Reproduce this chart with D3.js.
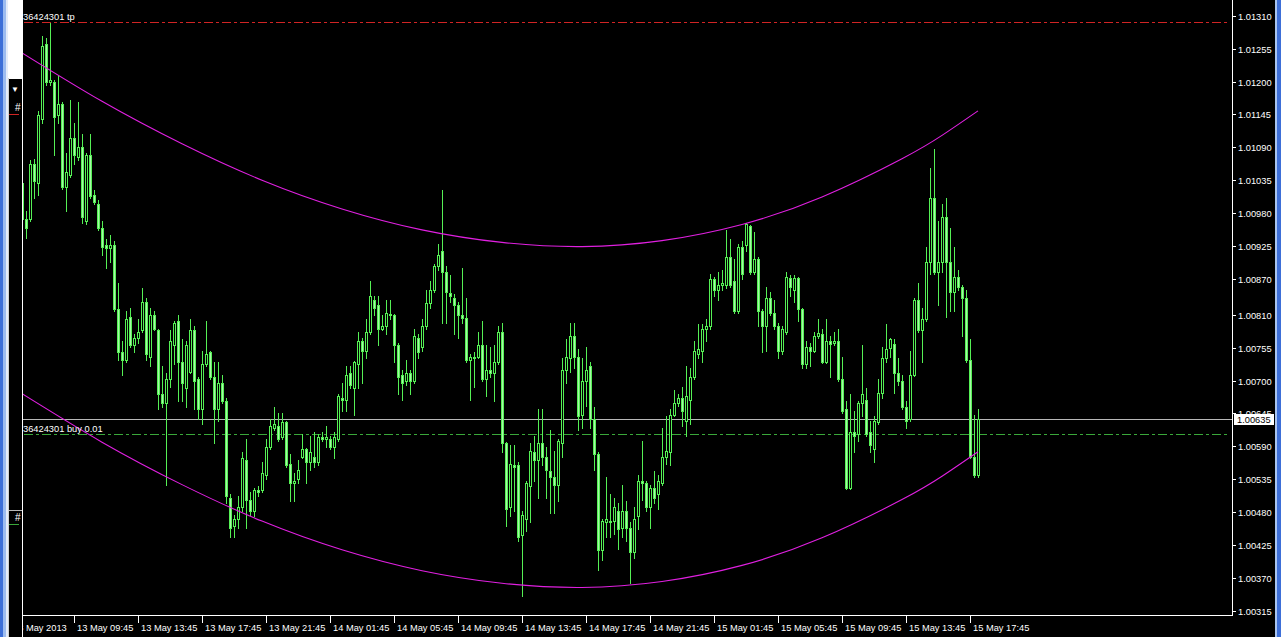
<!DOCTYPE html>
<html><head><meta charset="utf-8">
<script src="https://cdn.jsdelivr.net/npm/d3@7"></script>
<style>html,body{margin:0;padding:0;background:#000;overflow:hidden}svg{display:block}</style>
</head><body><svg id="c" width="1281" height="637"></svg>
<script>
// ---- data ----
const firstBarTime = "2013-05-13 06:30"; // M15 bars
const opens = [
1.01030,1.00970,1.00970,1.01062,1.01030,1.01137,1.01263,1.01200,1.01200,1.01144,
1.01162,1.01024,1.01043,1.01106,1.01074,1.01090,1.00967,1.01077,1.01011,1.00996,
1.00955,1.00926,1.00922,1.00926,1.00819,1.00747,1.00734,1.00807,1.00759,1.00772,
1.00784,1.00832,1.00740,1.00810,1.00784,1.00677,1.00662,1.00703,1.00759,1.00800,
1.00731,1.00687,1.00715,1.00784,1.00703,1.00652,1.00728,1.00747,1.00706,1.00652,
1.00696,1.00665,1.00504,1.00457,1.00469,1.00488,1.00567,1.00501,1.00482,1.00517,
1.00517,1.00542,1.00589,1.00621,1.00624,1.00605,1.00630,1.00561,1.00529,1.00536,
1.00573,1.00586,1.00564,1.00573,1.00564,1.00605,1.00602,1.00602,1.00589,1.00602,
1.00671,1.00668,1.00712,1.00687,1.00728,1.00766,1.00750,1.00781,1.00835,1.00826,
1.00787,1.00791,1.00811,1.00810,1.00759,1.00709,1.00699,1.00712,1.00699,1.00772,
1.00756,1.00791,1.00829,1.00851,1.00892,1.00917,1.00882,1.00846,1.00838,1.00826,
1.00810,1.00805,1.00735,1.00737,1.00740,1.00759,1.00703,1.00718,1.00712,1.00731,
1.00781,1.00595,1.00488,1.00559,1.00558,1.00441,1.00469,1.00523,1.00580,1.00567,
1.00595,1.00573,1.00548,1.00539,1.00526,1.00595,1.00718,1.00737,1.00775,1.00740,
1.00643,1.00699,1.00725,1.00636,1.00577,1.00416,1.00463,1.00466,1.00466,1.00482,
1.00454,1.00482,1.00454,1.00413,1.00473,1.00532,1.00529,1.00488,1.00520,1.00510,
1.00529,1.00573,1.00580,1.00643,1.00662,1.00671,1.00633,1.00668,1.00706,1.00744,
1.00750,1.00786,1.00791,1.00870,1.00851,1.00860,1.00860,1.00907,1.00866,1.00816,
1.00923,1.00926,1.00958,1.00882,1.00904,1.00816,1.00791,1.00838,1.00813,1.00791,
1.00750,1.00781,1.00871,1.00851,1.00871,1.00819,1.00728,1.00756,1.00750,1.00775,
1.00778,1.00731,1.00766,1.00762,1.00766,1.00703,1.00652,1.00520,1.00614,1.00611,
1.00662,1.00668,1.00614,1.00586,1.00630,1.00680,1.00737,1.00754,1.00761,1.00712,
1.00699,1.00655,1.00636,1.00709,1.00835,1.00784,1.00803,1.00898,1.01005,1.00882,
1.00898,1.00973,1.00898,1.00848,1.00873,1.00857,1.00838,1.00734,1.00573,1.00542];
const highs = [
1.01033,1.00983,1.01068,1.01071,1.01150,1.01276,1.01273,1.01298,1.01203,1.01210,
1.01166,1.01081,1.01169,1.01131,1.01166,1.01112,1.01080,1.01112,1.01018,1.01002,
1.00967,1.00936,1.00943,1.00933,1.00863,1.00766,1.00816,1.00822,1.00778,1.00803,
1.00854,1.00838,1.00822,1.00816,1.00787,1.00725,1.00712,1.00784,1.00800,1.00810,
1.00769,1.00766,1.00803,1.00791,1.00706,1.00750,1.00800,1.00750,1.00731,1.00731,
1.00709,1.00671,1.00510,1.00476,1.00507,1.00580,1.00602,1.00514,1.00520,1.00523,
1.00564,1.00602,1.00636,1.00655,1.00646,1.00646,1.00632,1.00577,1.00545,1.00567,
1.00611,1.00588,1.00608,1.00614,1.00611,1.00614,1.00624,1.00608,1.00614,1.00677,
1.00696,1.00725,1.00725,1.00733,1.00781,1.00772,1.00803,1.00866,1.00841,1.00841,
1.00810,1.00835,1.00835,1.00812,1.00762,1.00718,1.00734,1.00718,1.00787,1.00778,
1.00803,1.00851,1.00866,1.00895,1.00929,1.01018,1.00892,1.00876,1.00844,1.00832,
1.00888,1.00838,1.00744,1.00747,1.00781,1.00800,1.00759,1.00756,1.00759,1.00791,
1.00797,1.00597,1.00592,1.00592,1.00564,1.00482,1.00532,1.00595,1.00608,1.00652,
1.00652,1.00589,1.00618,1.00583,1.00602,1.00737,1.00769,1.00797,1.00797,1.00753,
1.00737,1.00756,1.00731,1.00655,1.00580,1.00469,1.00539,1.00510,1.00504,1.00495,
1.00526,1.00498,1.00463,1.00488,1.00542,1.00599,1.00532,1.00526,1.00548,1.00542,
1.00621,1.00640,1.00652,1.00684,1.00677,1.00690,1.00725,1.00721,1.00766,1.00794,
1.00794,1.00803,1.00879,1.00873,1.00882,1.00885,1.00951,1.00936,1.00904,1.00929,
1.00933,1.00964,1.00960,1.00948,1.00907,1.00819,1.00857,1.00848,1.00835,1.00797,
1.00791,1.00882,1.00876,1.00876,1.00873,1.00822,1.00766,1.00762,1.00781,1.00803,
1.00787,1.00803,1.00775,1.00781,1.00787,1.00740,1.00665,1.00677,1.00649,1.00665,
1.00759,1.00687,1.00633,1.00640,1.00703,1.00756,1.00794,1.00772,1.00769,1.00737,
1.00709,1.00665,1.00750,1.00838,1.00863,1.00822,1.00923,1.01055,1.01087,1.00967,
1.00996,1.01005,1.00955,1.00923,1.00885,1.00860,1.00851,1.00769,1.00643,1.00652];
const lows = [
1.00942,1.00939,1.00967,1.01005,1.01011,1.01131,1.01194,1.01194,1.01077,1.01131,
1.01020,1.00983,1.01040,1.01062,1.01068,1.00964,1.00961,1.01005,1.00996,1.00951,
1.00910,1.00888,1.00898,1.00816,1.00734,1.00709,1.00731,1.00756,1.00747,1.00762,
1.00781,1.00734,1.00725,1.00784,1.00652,1.00655,1.00526,1.00690,1.00728,1.00665,
1.00665,1.00655,1.00712,1.00652,1.00636,1.00627,1.00725,1.00703,1.00595,1.00633,
1.00662,1.00495,1.00438,1.00438,1.00454,1.00482,1.00454,1.00476,1.00473,1.00507,
1.00514,1.00536,1.00586,1.00618,1.00599,1.00602,1.00555,1.00498,1.00498,1.00529,
1.00570,1.00529,1.00551,1.00555,1.00558,1.00599,1.00589,1.00586,1.00570,1.00599,
1.00649,1.00649,1.00687,1.00643,1.00687,1.00696,1.00737,1.00778,1.00810,1.00759,
1.00784,1.00778,1.00803,1.00731,1.00677,1.00668,1.00693,1.00677,1.00696,1.00737,
1.00750,1.00787,1.00822,1.00848,1.00885,1.00797,1.00797,1.00832,1.00778,1.00772,
1.00797,1.00731,1.00668,1.00690,1.00737,1.00699,1.00674,1.00706,1.00665,1.00728,
1.00580,1.00457,1.00473,1.00482,1.00432,1.00340,1.00448,1.00463,1.00532,1.00504,
1.00558,1.00504,1.00479,1.00479,1.00498,1.00573,1.00696,1.00715,1.00721,1.00618,
1.00621,1.00658,1.00621,1.00551,1.00384,1.00400,1.00438,1.00438,1.00444,1.00419,
1.00438,1.00432,1.00362,1.00403,1.00451,1.00501,1.00482,1.00454,1.00495,1.00485,
1.00526,1.00561,1.00558,1.00640,1.00658,1.00624,1.00608,1.00627,1.00703,1.00737,
1.00731,1.00766,1.00787,1.00841,1.00835,1.00851,1.00854,1.00857,1.00813,1.00813,
1.00870,1.00917,1.00879,1.00879,1.00791,1.00747,1.00750,1.00810,1.00787,1.00737,
1.00744,1.00778,1.00841,1.00832,1.00800,1.00721,1.00721,1.00725,1.00747,1.00772,
1.00729,1.00729,1.00706,1.00759,1.00699,1.00646,1.00518,1.00518,1.00580,1.00599,
1.00640,1.00608,1.00580,1.00564,1.00627,1.00671,1.00731,1.00740,1.00680,1.00693,
1.00652,1.00621,1.00633,1.00708,1.00782,1.00731,1.00800,1.00879,1.00879,1.00826,
1.00882,1.00807,1.00816,1.00816,1.00851,1.00775,1.00731,1.00570,1.00539,1.00539];
const closes = [
1.00970,1.00955,1.01062,1.01033,1.01144,1.01260,1.01200,1.01203,1.01140,1.01162,
1.01024,1.01049,1.01106,1.01077,1.01090,1.00973,1.01077,1.01008,1.00999,1.00955,
1.00923,1.00922,1.00926,1.00819,1.00747,1.00734,1.00803,1.00759,1.00772,1.00781,
1.00832,1.00744,1.00810,1.00787,1.00677,1.00662,1.00703,1.00766,1.00797,1.00731,
1.00696,1.00759,1.00784,1.00699,1.00652,1.00728,1.00744,1.00706,1.00652,1.00696,
1.00665,1.00507,1.00454,1.00469,1.00488,1.00570,1.00501,1.00482,1.00517,1.00514,
1.00545,1.00589,1.00624,1.00627,1.00602,1.00630,1.00558,1.00529,1.00532,1.00551,
1.00586,1.00564,1.00580,1.00564,1.00605,1.00602,1.00605,1.00589,1.00605,1.00674,
1.00668,1.00709,1.00693,1.00731,1.00766,1.00750,1.00781,1.00841,1.00822,1.00787,
1.00791,1.00813,1.00809,1.00759,1.00706,1.00696,1.00712,1.00699,1.00775,1.00747,
1.00791,1.00829,1.00851,1.00892,1.00910,1.00882,1.00848,1.00841,1.00826,1.00810,
1.00805,1.00734,1.00739,1.00740,1.00759,1.00703,1.00718,1.00712,1.00731,1.00781,
1.00595,1.00485,1.00561,1.00555,1.00438,1.00476,1.00529,1.00583,1.00567,1.00595,
1.00573,1.00551,1.00539,1.00526,1.00599,1.00718,1.00740,1.00775,1.00740,1.00640,
1.00699,1.00718,1.00636,1.00577,1.00416,1.00466,1.00469,1.00464,1.00488,1.00451,
1.00482,1.00454,1.00413,1.00469,1.00532,1.00529,1.00488,1.00520,1.00504,1.00532,
1.00573,1.00583,1.00643,1.00662,1.00671,1.00649,1.00674,1.00706,1.00750,1.00753,
1.00787,1.00791,1.00870,1.00851,1.00860,1.00863,1.00907,1.00860,1.00816,1.00923,
1.00879,1.00961,1.00882,1.00904,1.00816,1.00791,1.00838,1.00813,1.00791,1.00750,
1.00787,1.00873,1.00857,1.00871,1.00819,1.00728,1.00756,1.00750,1.00775,1.00779,
1.00731,1.00766,1.00761,1.00766,1.00703,1.00649,1.00520,1.00614,1.00608,1.00662,
1.00677,1.00611,1.00592,1.00633,1.00680,1.00737,1.00753,1.00769,1.00712,1.00699,
1.00655,1.00633,1.00709,1.00835,1.00784,1.00803,1.00898,1.01005,1.00882,1.00898,
1.00973,1.00898,1.00848,1.00873,1.00857,1.00838,1.00734,1.00573,1.00542,1.00635];

// regression channel (bar index -> price)
const channelBars  = [0, 20, 40, 60, 80, 100, 120, 140, 160, 180, 200, 220, 230, 239];
const channelUpper = [1.01248,1.01167,1.01096,1.01035,1.00987,1.00952,1.00931,1.00924,1.00934,1.00961,1.01007,1.01071,1.01110,1.01151];
const channelLower = [1.00678,1.00597,1.00526,1.00465,1.00417,1.00382,1.00361,1.00354,1.00364,1.00391,1.00437,1.00501,1.00540,1.00581];

const priceTickLabels = ["1.01310","1.01255","1.01200","1.01145","1.01090","1.01035","1.00980","1.00925","1.00870","1.00810",
  "1.00755","1.00700","1.00645","1.00590","1.00535","1.00480","1.00425","1.00370","1.00315"];
const timeTickTimes = ["2013-05-13 05:45","2013-05-13 09:45","2013-05-13 13:45","2013-05-13 17:45","2013-05-13 21:45",
  "2013-05-14 01:45","2013-05-14 05:45","2013-05-14 09:45","2013-05-14 13:45","2013-05-14 17:45","2013-05-14 21:45",
  "2013-05-15 01:45","2013-05-15 05:45","2013-05-15 09:45","2013-05-15 13:45","2013-05-15 17:45"];
const timeTickLabels = ["13 May 2013","13 May 09:45","13 May 13:45","13 May 17:45","13 May 21:45",
  "14 May 01:45","14 May 05:45","14 May 09:45","14 May 13:45","14 May 17:45","14 May 21:45",
  "15 May 01:45","15 May 05:45","15 May 09:45","15 May 13:45","15 May 17:45"];

const tpLevel = 1.01300, tpLabel = "36424301 tp";
const buyLevel = 1.00611, buyLabel = "36424301 buy 0.01";
const bidPrice = 1.00635;

// ---- drawing ----
const W = 1281, H = 637;
const plotL = 22, plotR = 1232, plotT = 0, plotB = 615;
const FONT = "'Liberation Sans', Arial, sans-serif";
const GREEN = "#55f055";

const svg = d3.select("#c");
svg.append("rect").attr("width", W).attr("height", H).attr("fill", "#000");

const parseT = d3.timeParse("%Y-%m-%d %H:%M");
const t0 = parseT(firstBarTime);
const barTimes = opens.map((_, i) => d3.timeMinute.offset(t0, 15 * i));
const x = d3.scaleTime().domain([barTimes[0], barTimes[barTimes.length - 1]]).range([22, 978]);
const y = d3.scaleLinear().domain([1.00308, 1.01333]).range([615, 2]);

svg.append("defs").append("clipPath").attr("id", "plot")
  .append("rect").attr("x", plotL).attr("y", plotT).attr("width", plotR - plotL).attr("height", plotB - plotT);

const plot = svg.append("g").attr("clip-path", "url(#plot)");

const bars = barTimes.map((t, i) => ({ t, o: opens[i], h: highs[i], l: lows[i], c: closes[i] }));

// level lines
plot.append("line").attr("x1", plotL).attr("x2", plotR)
  .attr("y1", Math.round(y(bidPrice)) + 0.5).attr("y2", Math.round(y(bidPrice)) + 0.5)
  .attr("stroke", "#b8b8b8").attr("stroke-width", 1);
plot.append("line").attr("x1", plotL + 2).attr("x2", plotR - 4)
  .attr("y1", Math.round(y(tpLevel)) + 0.5).attr("y2", Math.round(y(tpLevel)) + 0.5)
  .attr("stroke", "#d02424").attr("stroke-width", 1).attr("stroke-dasharray", "9,3,3,3");
plot.append("line").attr("x1", plotL + 2).attr("x2", plotR - 4)
  .attr("y1", Math.round(y(buyLevel)) + 0.5).attr("y2", Math.round(y(buyLevel)) + 0.5)
  .attr("stroke", "#3aa83a").attr("stroke-width", 1).attr("stroke-dasharray", "9,3,3,3");

// candles
const cg = plot.append("g").attr("shape-rendering", "crispEdges");
const cand = cg.selectAll("g").data(bars).join("g");
cand.append("line")
  .attr("x1", d => Math.round(x(d.t)) + 0.5).attr("x2", d => Math.round(x(d.t)) + 0.5)
  .attr("y1", d => Math.round(y(d.h))).attr("y2", d => Math.round(y(d.l)) + 1)
  .attr("stroke", GREEN).attr("stroke-width", 1);
cand.append("rect")
  .attr("x", d => Math.round(x(d.t)) - 0.5)
  .attr("y", d => Math.round(y(Math.max(d.o, d.c))) + 0.5)
  .attr("width", 2)
  .attr("height", d => Math.max(0, Math.round(y(Math.min(d.o, d.c))) - Math.round(y(Math.max(d.o, d.c)))))
  .attr("fill", d => d.c >= d.o ? "#000" : "#a8f8a8")
  .attr("stroke", GREEN).attr("stroke-width", 1);

// channel curves
const chanX = i => x(barTimes[i]);
const lineGen = d3.line().curve(d3.curveNatural);
plot.append("path").attr("d", lineGen(channelBars.map((b, i) => [chanX(b), y(channelUpper[i])])))
  .attr("fill", "none").attr("stroke", "#e020e0").attr("stroke-width", 1.1);
plot.append("path").attr("d", lineGen(channelBars.map((b, i) => [chanX(b), y(channelLower[i])])))
  .attr("fill", "none").attr("stroke", "#e020e0").attr("stroke-width", 1.1);

// level labels
svg.append("text").attr("x", plotL + 1).attr("y", Math.round(y(tpLevel)) - 2)
  .attr("fill", "#fff").attr("font-family", FONT).attr("font-size", 9.3).text(tpLabel);
svg.append("text").attr("x", plotL + 1).attr("y", Math.round(y(buyLevel)) - 2)
  .attr("fill", "#fff").attr("font-family", FONT).attr("font-size", 9.3).text(buyLabel);

// axes
const ax = svg.append("g").attr("shape-rendering", "crispEdges");
ax.append("line").attr("x1", plotL).attr("x2", plotR + 1).attr("y1", plotB + 0.5).attr("y2", plotB + 0.5).attr("stroke", "#fff");
ax.append("line").attr("x1", plotR + 0.5).attr("x2", plotR + 0.5).attr("y1", 0).attr("y2", plotB + 1).attr("stroke", "#fff");
ax.append("line").attr("x1", plotL + 0.5).attr("x2", plotL + 0.5).attr("y1", 0).attr("y2", H).attr("stroke", "#fff");

// price axis
const priceTicks = priceTickLabels.map(Number);
priceTicks.forEach((p, i) => {
  const py = Math.round(y(p));
  ax.append("line").attr("x1", plotR).attr("x2", plotR + 4).attr("y1", py + 0.5).attr("y2", py + 0.5).attr("stroke", "#fff");
  svg.append("text").attr("x", plotR + 6).attr("y", py + 3.5).attr("fill", "#fff")
    .attr("font-family", FONT).attr("font-size", 9.3).text(priceTickLabels[i]);
});
// current bid label (partly covers the neighbouring tick label, as in MetaTrader)
const by = y(bidPrice);
svg.append("rect").attr("x", plotR + 2).attr("y", Math.round(by) - 5.5).attr("width", 40).attr("height", 11)
  .attr("fill", "#fff").attr("shape-rendering", "crispEdges");
svg.append("text").attr("x", plotR + 5).attr("y", Math.round(by) + 3.5).attr("fill", "#000")
  .attr("font-family", FONT).attr("font-size", 9.3).text(bidPrice.toFixed(5));

// time axis
timeTickTimes.forEach((s, i) => {
  const tx = Math.round(x(parseT(s)));
  ax.append("line").attr("x1", tx + 0.5).attr("x2", tx + 0.5).attr("y1", plotB + 1).attr("y2", plotB + 8).attr("stroke", "#fff");
  svg.append("text").attr("x", tx + 3).attr("y", 631).attr("fill", "#fff")
    .attr("font-family", FONT).attr("font-size", 9.3).text(timeTickLabels[i]);
});

// ---- window chrome on the left / right ----
const chrome = svg.append("g").attr("shape-rendering", "crispEdges");
chrome.append("rect").attr("x", 0).attr("y", 0).attr("width", plotL).attr("height", H).attr("fill", "#000");
chrome.append("rect").attr("x", 0).attr("y", 0).attr("width", 3).attr("height", H).attr("fill", "#3d6fd8");
chrome.append("rect").attr("x", 3).attr("y", 0).attr("width", 3).attr("height", H).attr("fill", "#9dbcf0");
chrome.append("rect").attr("x", 6).attr("y", 0).attr("width", 2).attr("height", H).attr("fill", "#e4ecfa");
chrome.append("rect").attr("x", 8).attr("y", 0).attr("width", plotL - 8).attr("height", 78).attr("fill", "#fff");
chrome.append("line").attr("x1", 8).attr("x2", plotL).attr("y1", 78.5).attr("y2", 78.5).attr("stroke", "#fff");
chrome.append("line").attr("x1", 8.5).attr("x2", 8.5).attr("y1", 78).attr("y2", H).attr("stroke", "#d0d0d0");
chrome.append("text").attr("x", 11).attr("y", 92).attr("fill", "#fff").attr("font-family", FONT).attr("font-size", 8).text("▼");
chrome.append("text").attr("x", 15).attr("y", 111).attr("fill", "#fff").attr("font-family", FONT).attr("font-size", 10).text("#");
chrome.append("line").attr("x1", 9).attr("x2", 19).attr("y1", 114.5).attr("y2", 114.5).attr("stroke", "#d02424");
chrome.append("line").attr("x1", 9).attr("x2", plotL).attr("y1", 510.5).attr("y2", 510.5).attr("stroke", "#b8b8b8");
chrome.append("text").attr("x", 15).attr("y", 521).attr("fill", "#fff").attr("font-family", FONT).attr("font-size", 10).text("#");
chrome.append("line").attr("x1", 9).attr("x2", 19).attr("y1", 524.5).attr("y2", 524.5).attr("stroke", "#3aa83a");
chrome.append("line").attr("x1", plotL + 0.5).attr("x2", plotL + 0.5).attr("y1", 78).attr("y2", H).attr("stroke", "#fff");
// right window border
chrome.append("rect").attr("x", 1275).attr("y", 0).attr("width", 2).attr("height", H).attr("fill", "#a8c4f0");
chrome.append("rect").attr("x", 1277).attr("y", 0).attr("width", 4).attr("height", H).attr("fill", "#3d6fd8");
</script>
</body></html>
